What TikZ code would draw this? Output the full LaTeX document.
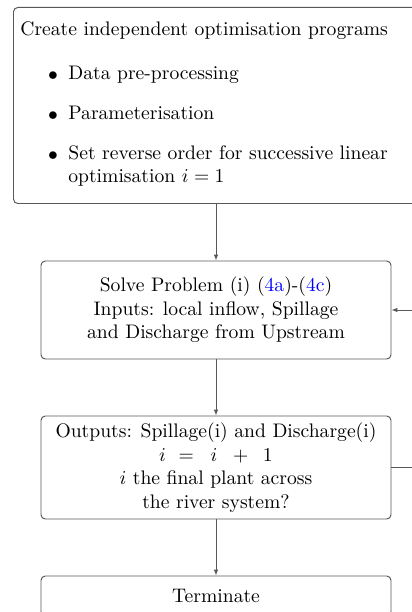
\documentclass[tikz,border=0pt]{standalone}
\usetikzlibrary{arrows.meta}
\newcommand\pxu{0.51pt}
\begin{document}
\begin{tikzpicture}[x=\pxu,y=-\pxu,
  box/.style={draw=black!65, line width=0.5pt, rounded corners=2.2pt, align=center, inner sep=0pt},
  conn/.style={draw=black!65, line width=0.5pt, -{Latex[length=3pt,width=2.4pt]}},
  txt/.style={inner sep=0pt, anchor=base west}]
\clip (0,0) rectangle (412,612);
\useasboundingbox (0,0) rectangle (412,612);
% box 1
\node[box, anchor=north west, minimum width=412*\pxu, minimum height=196*\pxu] (b1) at (13,7) {};
\node[txt] (t0) at (20,36) {Create independent optimisation programs};
\node[inner sep=0pt] (d1) at (53,76) {$\bullet$};
\node[txt] (t1) at (68,80) {Data pre-processing};
\node[inner sep=0pt] (d2) at (53,116) {$\bullet$};
\node[txt] (t2) at (68,120) {Parameterisation};
\node[inner sep=0pt] (d3) at (53,156) {$\bullet$};
\node[txt] (t3) at (68,160) {Set reverse order for successive linear};
\node[txt] (t4) at (68,183) {optimisation $i=1$};
% box 2
\node[box, minimum width=350*\pxu, minimum height=98*\pxu] (b2) at (216,310)
  {Solve Problem (i) (\textcolor{blue}{4a})-(\textcolor{blue}{4c})\\
   Inputs: local inflow, Spillage\\ and Discharge from Upstream};
% box 3
\node[box, minimum width=350*\pxu, minimum height=103*\pxu] (b3) at (216,467.5)
  {Outputs: Spillage(i) and Discharge(i)\\
   $i$\hspace{6.5pt}$=$\hspace{8.5pt}$i$\hspace{8pt}$+$\hspace{7.5pt}$1$\\
   $i$ the final plant across\\ the river system?};
% box 4
\node[box, minimum width=350*\pxu, minimum height=40*\pxu] (b4) at (216,596) {Terminate};
% connectors
\draw[conn] (b1.south -| b2.north) -- (b2.north);
\draw[conn] (b2.south) -- (b3.north);
\draw[conn] (b3.south) -- (b4.north);
\draw[conn] (b3.east) -- ++(30,0) |- (b2.east);
\end{tikzpicture}
\end{document}
